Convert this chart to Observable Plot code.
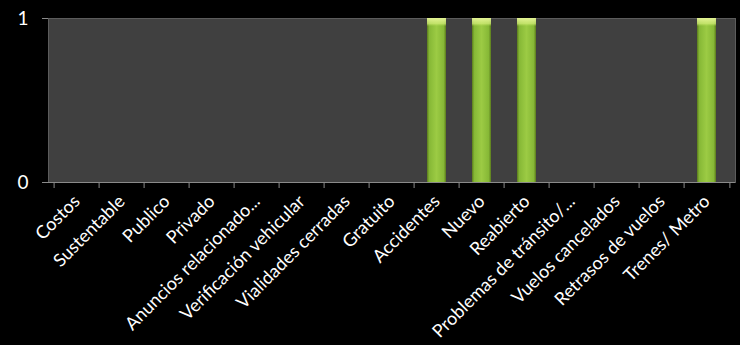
<!DOCTYPE html>
<html>
<head>
<meta charset="utf-8">
<script src="https://cdn.jsdelivr.net/npm/d3@7"></script>
<script src="https://cdn.jsdelivr.net/npm/@observablehq/plot@0.6"></script>
<style>
  html, body { margin: 0; padding: 0; background: #000; }
  #chart { width: 740px; height: 345px; overflow: hidden; }
</style>
</head>
<body>
<div id="chart"></div>
<script>
const categories = ["Costos", "Sustentable", "Publico", "Privado", "Anuncios relacionado...", "Verificación vehicular", "Vialidades cerradas", "Gratuito", "Accidentes", "Nuevo", "Reabierto", "Problemas de tránsito/...", "Vuelos cancelados", "Retrasos de vuelos", "Trenes/ Metro"];
const values = [0, 0, 0, 0, 0, 0, 0, 0, 1, 1, 1, 0, 0, 0, 1];
const yTicks = [0, 1];

const data = categories.map((c, i) => ({category: c, value: values[i]}));

const W = 740, H = 345;
const mL = 48, mR = 5, mT = 18, mB = 163;
const step = (W - mL - mR) / categories.length;

const plot = Plot.plot({
  width: W,
  height: H,
  marginLeft: mL,
  marginRight: mR,
  marginTop: mT,
  marginBottom: mB,
  style: {background: "#000", color: "#fff", fontFamily: "Lato, 'Open Sans', sans-serif"},
  x: {domain: categories, paddingInner: 0.58, paddingOuter: 0.29, label: null},
  y: {domain: [0, 1], label: null},
  marks: [
    Plot.frame({fill: "#404040", stroke: "#5c5c5c"}),
    Plot.barY(data, {x: "category", y: "value", fill: "url(#barGrad)"}),
    Plot.barY(data, {x: "category", y: "value", fill: "url(#bevelGrad)"}),
    Plot.ruleY([0], {stroke: "#8a8a8a", strokeWidth: 1}),
    Plot.axisY({ticks: yTicks, tickSize: 6, tickPadding: 14, stroke: "#8a8a8a", fontSize: 19, tickFormat: d => String(d), fill: "#fff"}),
    Plot.ruleX(categories, {x: d => d, dx: -step / 2, y1: 0, y2: 0, insetBottom: -6, stroke: "#8a8a8a"}),
    Plot.ruleX(categories.slice(-1), {x: d => d, dx: step / 2, y1: 0, y2: 0, insetBottom: -6, stroke: "#8a8a8a"}),
    Plot.axisX({tickSize: 0, tickPadding: 16, tickRotate: -45, fontSize: 18, fill: "#fff"})
  ]
});

const ns = "http://www.w3.org/2000/svg";
const defs = document.createElementNS(ns, "defs");
defs.innerHTML = `
  <linearGradient id="barGrad" x1="0" y1="0" x2="1" y2="0">
    <stop offset="0" stop-color="#5a7a1c"/>
    <stop offset="0.12" stop-color="#86b836"/>
    <stop offset="0.5" stop-color="#9ccb44"/>
    <stop offset="0.88" stop-color="#86b836"/>
    <stop offset="1" stop-color="#5a7a1c"/>
  </linearGradient>
  <linearGradient id="bevelGrad" x1="0" y1="0" x2="0" y2="1">
    <stop offset="0" stop-color="#e8f59a" stop-opacity="0.95"/>
    <stop offset="0.035" stop-color="#d4ee7a" stop-opacity="0.7"/>
    <stop offset="0.05" stop-color="#b5dc55" stop-opacity="0"/>
    <stop offset="1" stop-color="#b5dc55" stop-opacity="0"/>
  </linearGradient>`;
plot.insertBefore(defs, plot.firstChild);
document.getElementById("chart").appendChild(plot);
</script>
</body>
</html>
